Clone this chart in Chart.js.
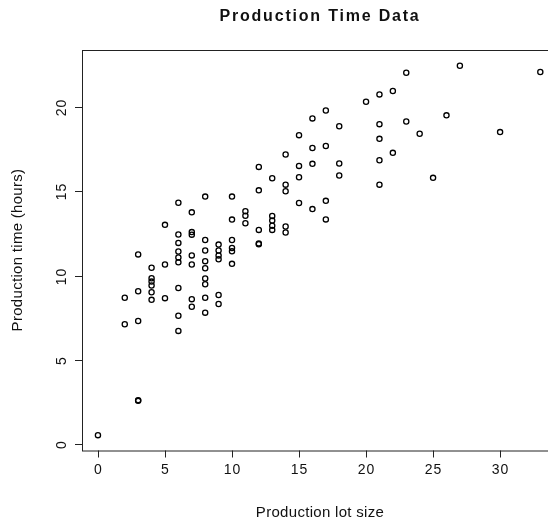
<!DOCTYPE html>
<html>
<head>
<meta charset="utf-8">
<title>Production Time Data</title>
<script src="https://cdn.jsdelivr.net/npm/chart.js@4/dist/chart.umd.min.js"></script>
<style>
  html, body { margin: 0; padding: 0; background: #fff; overflow: hidden; }
  #wrap { width: 600px; height: 523px; }
</style>
</head>
<body>
<div id="wrap"><canvas id="prodChart" width="600" height="523"></canvas></div>
<script>
// lot size (x) and production time in hours (y), one entry per lot
const lotSize = [
  0,
  2, 2,
  3, 3, 3, 3, 3,
  4, 4, 4, 4, 4, 4,
  5, 5, 5,
  6, 6, 6, 6, 6, 6, 6, 6, 6,
  7, 7, 7, 7, 7, 7, 7,
  8, 8, 8, 8, 8, 8, 8, 8, 8,
  9, 9, 9, 9, 9, 9,
  10, 10, 10, 10, 10, 10,
  11, 11, 11,
  12, 12, 12, 12, 12,
  13, 13, 13, 13, 13,
  14, 14, 14, 14, 14,
  15, 15, 15, 15,
  16, 16, 16, 16,
  17, 17, 17, 17,
  18, 18, 18,
  20,
  21, 21, 21, 21, 21,
  22, 22,
  23, 23,
  24, 25, 26, 27, 30, 33
];
const prodTime = [
  0.55,
  8.68, 7.11,
  11.25, 9.07, 7.31, 2.62, 2.58,
  10.46, 9.84, 9.64, 9.41, 9.01, 8.56,
  13.0, 10.65, 8.66,
  14.31, 12.43, 11.93, 11.42, 11.07, 10.78, 9.26, 7.62, 6.72,
  13.74, 12.57, 12.42, 11.19, 10.65, 8.6, 8.15,
  14.67, 12.1, 11.48, 10.85, 10.43, 9.82, 9.48, 8.68, 7.8,
  11.83, 11.48, 11.19, 10.96, 8.85, 8.31,
  14.67, 13.31, 12.1, 11.63, 11.43, 10.69,
  13.8, 13.54, 13.09,
  16.43, 15.04, 12.7, 11.9, 11.85,
  15.76, 13.52, 13.25, 12.95, 12.7,
  17.16, 15.38, 14.99, 12.9, 12.55,
  18.31, 16.49, 15.82, 14.29,
  19.3, 17.55, 16.61, 13.93,
  19.77, 17.67, 14.42, 13.32,
  18.84, 16.63, 15.92,
  20.29,
  20.72, 18.96, 18.09, 16.82, 15.38,
  20.92, 17.26,
  22.0, 19.12,
  18.39, 15.78, 19.48, 22.42, 18.49, 22.05
];

const xTicks = [0, 5, 10, 15, 20, 25, 30];
const yTicks = [0, 5, 10, 15, 20];

const chartTitle = 'Production Time Data';
const xTitle = 'Production lot size';
const yTitle = 'Production time (hours)';

const points = lotSize.map((x, i) => ({ x: x, y: prodTime[i] }));

const FONT = "'Liberation Sans', Arial, Helvetica, sans-serif";

// base-graphics style frame, ticks and labels
const rFrame = {
  id: 'rFrame',
  afterDraw(chart) {
    const ctx = chart.ctx;
    const area = chart.chartArea;
    const xs = chart.scales.x;
    const ys = chart.scales.y;
    ctx.save();
    ctx.strokeStyle = '#222';
    ctx.lineWidth = 1;
    ctx.strokeRect(area.left + 0.5, area.top + 0.5, area.right - area.left, area.bottom - area.top);

    ctx.fillStyle = '#111';
    ctx.font = '14px ' + FONT;
    ctx.letterSpacing = '1px';

    // x axis
    ctx.textAlign = 'center';
    ctx.textBaseline = 'middle';
    xTicks.forEach(v => {
      const px = Math.round(xs.getPixelForValue(v)) + 0.5;
      ctx.beginPath();
      ctx.moveTo(px, area.bottom);
      ctx.lineTo(px, area.bottom + 7);
      ctx.stroke();
      ctx.fillText(String(v), px, area.bottom + 20);
    });

    // y axis, labels turned to read upwards
    yTicks.forEach(v => {
      const py = Math.round(ys.getPixelForValue(v)) + 0.5;
      ctx.beginPath();
      ctx.moveTo(area.left, py);
      ctx.lineTo(area.left - 7, py);
      ctx.stroke();
      ctx.save();
      ctx.translate(area.left - 20, py);
      ctx.rotate(-Math.PI / 2);
      ctx.fillText(String(v), 0, 0);
      ctx.restore();
    });

    // axis titles
    ctx.font = '15px ' + FONT;
    ctx.letterSpacing = '0.3px';
    ctx.fillText(xTitle, (area.left + area.right) / 2, 513);
    ctx.save();
    ctx.translate(18, 250);
    ctx.rotate(-Math.PI / 2);
    ctx.fillText(yTitle, 0, 0);
    ctx.restore();

    // main title
    ctx.font = 'bold 16px ' + FONT;
    ctx.letterSpacing = '1.8px';
    ctx.fillText(chartTitle, (area.left + area.right) / 2, 17);
    ctx.restore();
  }
};

new Chart(document.getElementById('prodChart'), {
  type: 'scatter',
  data: {
    datasets: [{
      data: points,
      pointStyle: 'circle',
      pointRadius: 2.6,
      pointBorderWidth: 1.3,
      borderColor: '#000',
      backgroundColor: 'rgba(255,255,255,0)',
      pointHoverRadius: 2.6
    }]
  },
  options: {
    responsive: false,
    animation: false,
    events: [],
    layout: { padding: { left: 82, top: 50, right: 42, bottom: 72.5 } },
    plugins: {
      legend: { display: false },
      tooltip: { enabled: false },
      title: { display: false }
    },
    scales: {
      x: { type: 'linear', display: false, min: -1.19, max: 34.32 },
      y: { type: 'linear', display: false, min: -0.36, max: 23.35 }
    }
  },
  plugins: [rFrame]
});
</script>
</body>
</html>
